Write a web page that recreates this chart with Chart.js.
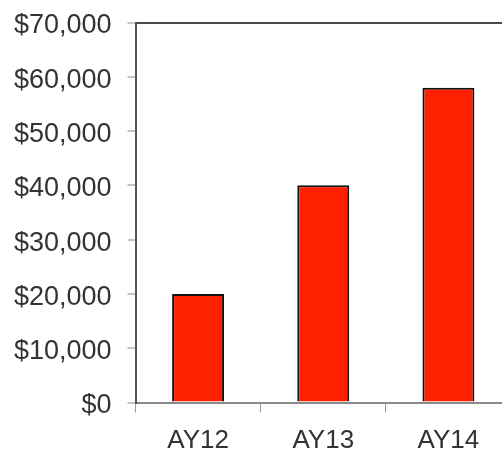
<!DOCTYPE html>
<html>
<head>
<meta charset="utf-8">
<script src="https://cdn.jsdelivr.net/npm/chart.js@4/dist/chart.umd.min.js"></script>
<style>
  html, body { margin: 0; padding: 0; background: #ffffff; overflow: hidden; width: 502px; height: 450px; }
  #wrap { width: 514px; height: 450px; }
</style>
</head>
<body>
<div id="wrap"><canvas id="chart" width="514" height="450"></canvas></div>
<script>
// Award years and amounts
const categories = ['AY12', 'AY13', 'AY14'];
const amounts = [20000, 40000, 58000];
const yTickValues = [0, 10000, 20000, 30000, 40000, 50000, 60000, 70000];

const fontFamily = '"Liberation Sans", Arial, sans-serif';

const ctx = document.getElementById('chart').getContext('2d');
new Chart(ctx, {
  type: 'bar',
  data: {
    labels: categories,
    datasets: [{
      data: amounts,
      backgroundColor: '#ff2000',
      borderColor: '#111111',
      borderWidth: 2,
      barPercentage: 0.415,
      categoryPercentage: 1.0
    }]
  },
  options: {
    responsive: false,
    devicePixelRatio: 1,
    animation: false,
    layout: { padding: { top: 22.5, right: 3, left: 0, bottom: 0 } },
    plugins: { legend: { display: false }, tooltip: { enabled: false } },
    scales: {
      x: {
        offset: true,
        grid: {
          offset: true,
          drawOnChartArea: false,
          drawTicks: true,
          tickLength: 10,
          tickColor: '#999999',
          tickWidth: 1
        },
        border: { color: '#8a8a8a', width: 2 },
        ticks: {
          color: '#333333',
          font: { family: fontFamily, size: 26 },
          padding: 13
        },
        afterFit: (scale) => {
          scale.height = 47.5;
          scale.paddingLeft = 0;
          scale.paddingRight = 0;
        }
      },
      y: {
        min: 0,
        max: 70000,
        afterBuildTicks: (scale) => { scale.ticks = yTickValues.map(v => ({ value: v })); },
        grid: {
          drawOnChartArea: true,
          color: (c) => (c.tick && c.tick.value === 70000 ? '#4a4a4a' : 'rgba(0,0,0,0)'),
          lineWidth: 2,
          drawTicks: true,
          tickLength: 8,
          tickColor: '#8a8a8a',
          tickWidth: 1
        },
        border: { color: '#555555', width: 2 },
        ticks: {
          color: '#333333',
          font: { family: fontFamily, size: 27 },
          padding: 16,
          labelOffset: 3.5,
          callback: (v) => '$' + Number(v).toLocaleString('en-US')
        },
        afterFit: (scale) => {
          scale.width = 135.5;
          scale.paddingTop = 0;
          scale.paddingBottom = 0;
        }
      }
    }
  }
});
</script>
</body>
</html>
